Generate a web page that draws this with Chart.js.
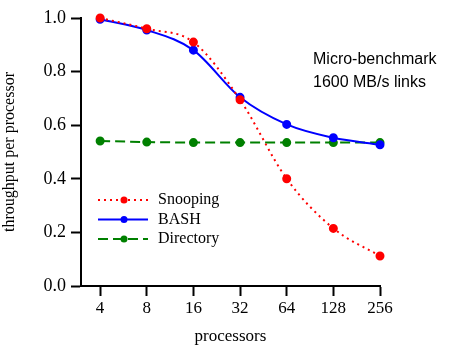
<!DOCTYPE html>
<html>
<head>
<meta charset="utf-8">
<script src="https://cdn.jsdelivr.net/npm/chart.js@4"></script>
<style>
  html, body { margin: 0; padding: 0; background: #fff; }
  #wrap { width: 463px; height: 347px; }
</style>
</head>
<body>
<div id="wrap"><canvas id="chart" width="463" height="347"></canvas></div>
<script>
// processors (x axis categories) and throughput per processor
const processors = [4, 8, 16, 32, 64, 128, 256];
const snooping  = [1.00, 0.96, 0.91, 0.695, 0.40, 0.215, 0.112];
const bash      = [0.995, 0.955, 0.88, 0.704, 0.603, 0.553, 0.527];
const directory = [0.541, 0.537, 0.535, 0.535, 0.535, 0.535, 0.535];
const yTicks = [0.0, 0.2, 0.4, 0.6, 0.8, 1.0];
const noteLines = ['Micro-benchmark', '1600 MB/s links'];

const serif = '"Liberation Serif", "Times New Roman", serif';
const sans = '"Liberation Sans", Arial, sans-serif';

function pts(vals) {
    return vals.map((v, i) => ({ x: Math.log2(processors[i]), y: v }));
}

// legend + note text drawn inside the plot
const overlay = {
    id: 'overlay',
    afterDraw(chart) {
        const ctx = chart.ctx;
        ctx.save();
        ctx.fillStyle = '#000';
        ctx.font = '16px ' + sans;
        ctx.textBaseline = 'alphabetic';
        noteLines.forEach((t, i) => ctx.fillText(t, 313, 64 + i * 23));

        ctx.font = '16px ' + serif;
        ctx.textBaseline = 'middle';
        chart.data.datasets.forEach((ds, i) => {
            const y = 200 + i * 19.5;
            ctx.strokeStyle = ds.borderColor;
            ctx.lineWidth = 2;
            ctx.setLineDash(ds.borderDash || []);
            ctx.beginPath();
            ctx.moveTo(98, y);
            ctx.lineTo(148, y);
            ctx.stroke();
            ctx.setLineDash([]);
            ctx.fillStyle = ds.borderColor;
            ctx.beginPath();
            ctx.arc(124, y, 3.5, 0, Math.PI * 2);
            ctx.fill();
            ctx.fillStyle = '#000';
            ctx.fillText(ds.label, 158, y);
        });
        ctx.restore();
    }
};

const config = {
    type: 'line',
    data: {
        datasets: [
            {
                label: 'Snooping',
                data: pts(snooping),
                borderColor: '#ff0000',
                backgroundColor: '#ff0000',
                borderDash: [2, 4],
                borderWidth: 2,
                pointRadius: 3.5,
                cubicInterpolationMode: 'monotone',
                clip: false
            },
            {
                label: 'BASH',
                data: pts(bash),
                borderColor: '#0000ff',
                backgroundColor: '#0000ff',
                borderWidth: 2,
                pointRadius: 3.5,
                cubicInterpolationMode: 'monotone',
                clip: false
            },
            {
                label: 'Directory',
                data: pts(directory),
                borderColor: '#008000',
                backgroundColor: '#008000',
                borderDash: [10, 5],
                borderWidth: 2,
                pointRadius: 3.5,
                clip: false
            }
        ]
    },
    options: {
        responsive: false,
        animation: false,
        layout: { padding: { left: 0, top: 18, right: 83, bottom: 0 } },
        plugins: {
            legend: { display: false },
            tooltip: { enabled: false }
        },
        scales: {
            x: {
                type: 'linear',
                min: 1.59,
                max: 8,
                afterBuildTicks: axis => {
                    axis.ticks = processors.map(p => ({ value: Math.log2(p) }));
                },
                afterFit: axis => { axis.height = 61; },
                grid: { drawOnChartArea: false, drawTicks: true, tickLength: 10, tickColor: '#000', tickWidth: 2 },
                border: { display: true, color: '#000', width: 2 },
                ticks: {
                    color: '#000',
                    font: { family: serif, size: 17 },
                    padding: 2,
                    maxRotation: 0,
                    callback: v => String(Math.round(Math.pow(2, v)))
                },
                title: {
                    display: true,
                    text: 'processors',
                    color: '#000',
                    font: { family: serif, size: 17 },
                    padding: { top: 6, bottom: 0 }
                }
            },
            y: {
                min: 0,
                max: 1,
                afterBuildTicks: axis => {
                    axis.ticks = yTicks.map(v => ({ value: v }));
                },
                afterFit: axis => { axis.width = 81; },
                grid: { drawOnChartArea: false, drawTicks: true, tickLength: 10, tickColor: '#000', tickWidth: 2 },
                border: { display: true, color: '#000', width: 2 },
                ticks: {
                    color: '#000',
                    font: { family: serif, size: 18 },
                    padding: 5,
                    callback: v => v.toFixed(1)
                },
                title: {
                    display: true,
                    text: 'throughput per processor',
                    color: '#000',
                    font: { family: serif, size: 16 },
                    padding: { top: 0, bottom: 4 }
                }
            }
        }
    },
    plugins: [overlay]
};

new Chart(document.getElementById('chart').getContext('2d'), config);
</script>
</body>
</html>
